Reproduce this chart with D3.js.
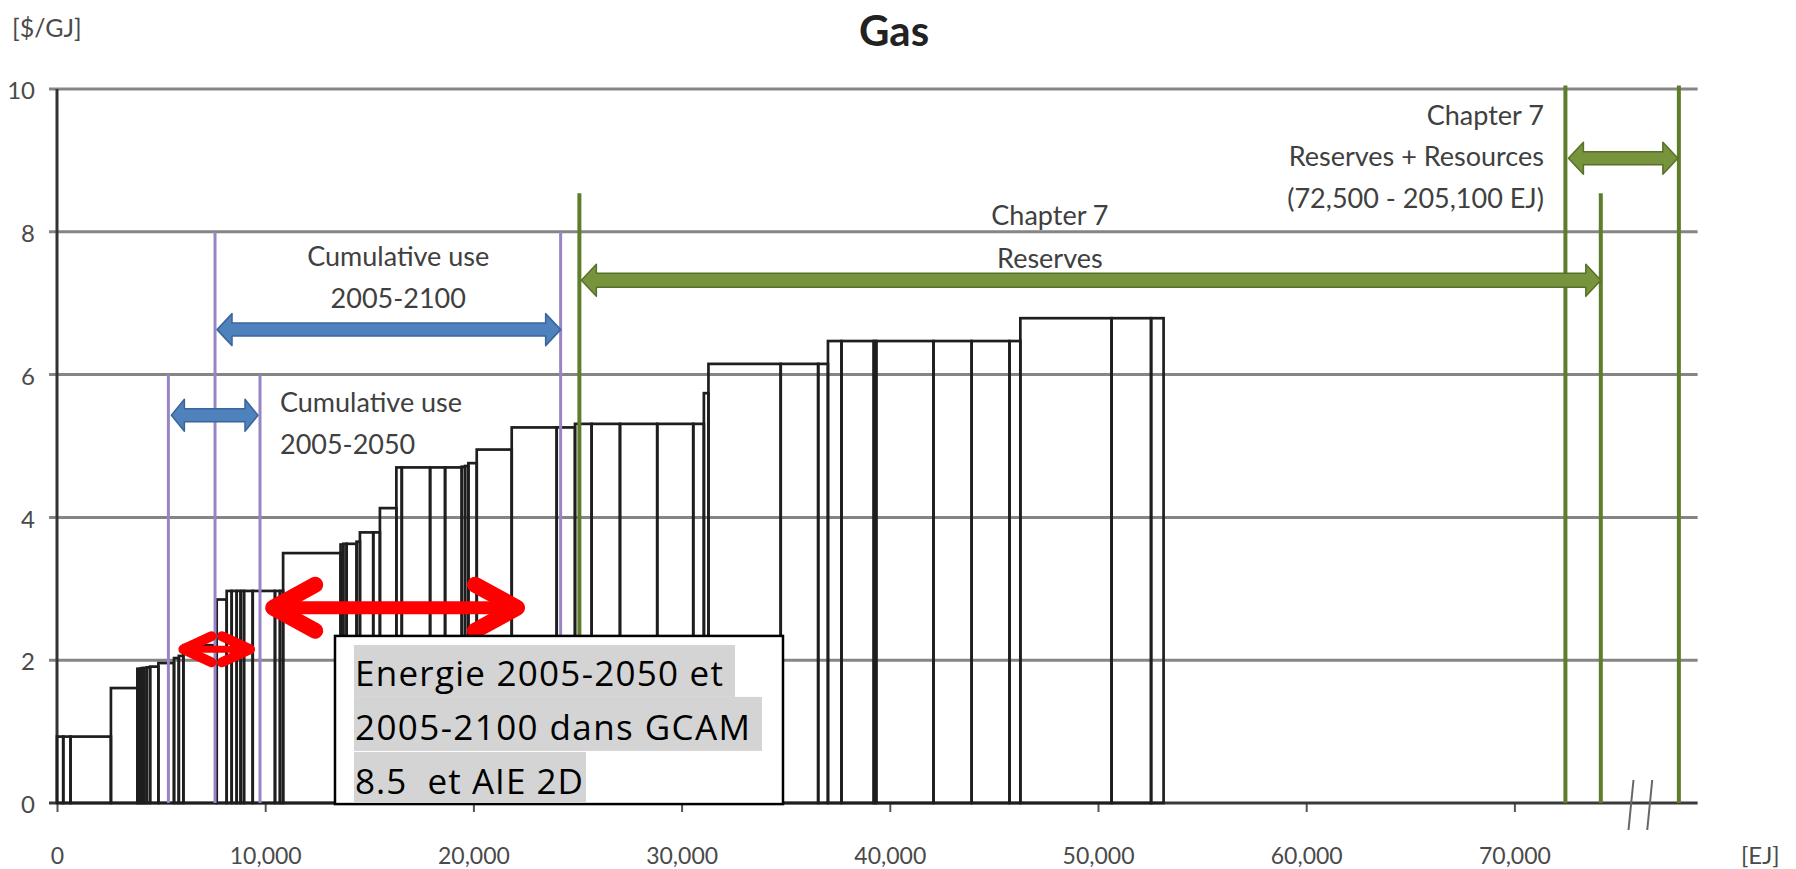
<!DOCTYPE html>
<html><head><meta charset="utf-8">
<script src="https://cdn.jsdelivr.net/npm/d3@7"></script>
<style>body{margin:0;background:#fff;} svg{display:block;}</style>
</head><body>
<svg id="chart" width="1796" height="869"></svg>
<script>
// ---------------- DATA ----------------
// Supply-cost steps: cumulative resource edges (EJ) and price of each step ($/GJ)
const stepEdgesEJ = [0, 300, 650, 2590, 3860, 3960, 4070, 4180, 4310, 4470, 4870, 5620, 5850, 6070, 7670,
  8150, 8390, 8630, 8820, 8980, 9400, 10470, 10710, 10860, 13620, 13750, 13910, 14390, 14550, 15190,
  15510, 16300, 16560, 17920, 18640, 19440, 19600, 19760, 20160, 21840, 24000, 24880, 25680, 27040, 28830,
  30560, 31070, 31290, 34760, 36560, 37030, 37680, 39230, 39350, 42100, 43930, 45750, 46270, 50650, 52550, 53150];
const stepPrices = [0.93, 0.93, 0.93, 1.61, 1.88, 1.88, 1.89, 1.89, 1.90, 1.91, 1.96, 2.03, 2.06, 2.21,
  2.85, 2.97, 2.97, 2.97, 2.97, 2.97, 2.97, 2.97, 2.97, 3.50, 3.62, 3.63, 3.63, 3.66, 3.79, 3.79,
  4.13, 4.70, 4.70, 4.70, 4.70, 4.71, 4.72, 4.76, 4.95, 5.26, 5.26, 5.31, 5.31, 5.31, 5.31, 5.31,
  5.74, 6.15, 6.15, 6.15, 6.47, 6.47, 6.47, 6.47, 6.47, 6.47, 6.47, 6.79, 6.79, 6.79];

const yTickValues = [0, 2, 4, 6, 8, 10];
const xTickValues = [0, 10000, 20000, 30000, 40000, 50000, 60000, 70000];
const xTickLabels = ["0", "10,000", "20,000", "30,000", "40,000", "50,000", "60,000", "70,000"];

// Annotation ranges (EJ)
const cumUse2050EJ = [5350, 9750];
const cumUse2100EJ = [7590, 24190];
const ch7ReservesEJ = [25090, 74150];
const ch7ResourcesEJ = [72450, 77900];   // right end drawn at the broken-axis position (205,100 EJ)
const axisBreakEJ = [75600, 76500];
const axisEndEJ = 78800;
const gcam2050EJ = [5830, 9510];
const gcam2100EJ = [10000, 22480];

// ---------------- SCALES ----------------
const svg = d3.select("#chart");
const x = d3.scaleLinear().domain([0, 80000]).range([57, 57 + 80000 * 0.02082]);
const y = d3.scaleLinear().domain([0, 10]).range([803, 89]);
const FONT = "Lato, 'Open Sans', sans-serif";
const TXT = "#4a4a4a";

// gridlines
svg.append("g").selectAll("line").data(yTickValues.filter(v => v > 0)).join("line")
  .attr("x1", x(0) - 8).attr("x2", x(axisEndEJ))
  .attr("y1", d => y(d)).attr("y2", d => y(d))
  .attr("stroke", "#858585").attr("stroke-width", 3);

// y axis (labels)
const yAx = svg.append("g").attr("transform", `translate(${x(0)},0)`)
  .call(d3.axisLeft(y).tickValues(yTickValues).tickSize(0).tickPadding(22).tickFormat(d3.format("d")));
yAx.select(".domain").remove();
yAx.selectAll("text").attr("font-family", FONT).attr("font-size", 24).attr("fill", TXT).attr("dy", "0.4em");

// x axis
const xAx = svg.append("g").attr("transform", `translate(0,${y(0)})`)
  .call(d3.axisBottom(x).tickValues(xTickValues).tickSize(9).tickPadding(36).tickFormat((d, i) => xTickLabels[i]));
xAx.select(".domain").remove();
xAx.selectAll(".tick line").attr("stroke", "#555").attr("stroke-width", 2);
xAx.selectAll("text").attr("font-family", FONT).attr("font-size", 23).attr("fill", TXT);

// axis lines
svg.append("line").attr("x1", x(0) - 8).attr("x2", x(axisEndEJ)).attr("y1", y(0)).attr("y2", y(0))
  .attr("stroke", "#3a3a3a").attr("stroke-width", 3);
svg.append("line").attr("x1", x(0)).attr("x2", x(0)).attr("y1", y(10)).attr("y2", y(0))
  .attr("stroke", "#333").attr("stroke-width", 3);

// axis break marks
svg.append("g").selectAll("line").data(axisBreakEJ).join("line")
  .attr("x1", d => x(d) - 2.5).attr("x2", d => x(d) + 2.5)
  .attr("y1", y(0) + 27).attr("y2", y(0) - 23)
  .attr("stroke", "#666").attr("stroke-width", 2);

// supply steps
const steps = stepPrices.map((p, i) => ({ x0: stepEdgesEJ[i], x1: stepEdgesEJ[i + 1], p }));
svg.append("g").selectAll("rect").data(steps).join("rect")
  .attr("x", d => x(d.x0)).attr("width", d => x(d.x1) - x(d.x0))
  .attr("y", d => y(d.p)).attr("height", d => y(0) - y(d.p))
  .attr("fill", "none").attr("stroke", "#1e1e1e").attr("stroke-width", 2.7);

// purple cumulative-use markers
const purpleLines = [
  { ej: cumUse2050EJ[0], top: 6 }, { ej: cumUse2050EJ[1], top: 6 },
  { ej: cumUse2100EJ[0], top: 8 }, { ej: cumUse2100EJ[1], top: 8 }];
svg.append("g").selectAll("line").data(purpleLines).join("line")
  .attr("x1", d => x(d.ej)).attr("x2", d => x(d.ej)).attr("y1", d => y(d.top)).attr("y2", y(0))
  .attr("stroke", "#9984c6").attr("stroke-width", 3);

// green chapter 7 markers
const greenLines = [
  { ej: ch7ReservesEJ[0], top: 8.54 }, { ej: ch7ResourcesEJ[0], top: 10.05 },
  { ej: ch7ReservesEJ[1], top: 8.54 }, { ej: ch7ResourcesEJ[1], top: 10.05 }];
svg.append("g").selectAll("line").data(greenLines).join("line")
  .attr("x1", d => x(d.ej)).attr("x2", d => x(d.ej)).attr("y1", d => y(d.top)).attr("y2", y(0))
  .attr("stroke", "#5e7d2b").attr("stroke-width", 4);

// block double arrows
function blockArrow(xa, xb, yc, shaftH, headH, headL, fill, stroke) {
  const pts = [[xa, yc], [xa + headL, yc - headH], [xa + headL, yc - shaftH], [xb - headL, yc - shaftH],
    [xb - headL, yc - headH], [xb, yc], [xb - headL, yc + headH], [xb - headL, yc + shaftH],
    [xa + headL, yc + shaftH], [xa + headL, yc + headH]];
  svg.append("path").attr("d", d3.line()(pts) + "Z")
    .attr("fill", fill).attr("stroke", stroke).attr("stroke-width", 1.5).attr("stroke-linejoin", "round");
}
blockArrow(x(cumUse2100EJ[0]) + 2, x(cumUse2100EJ[1]), y(6.63), 6.5, 16, 15, "#4f81bd", "#3a659a");
blockArrow(x(cumUse2050EJ[0]) + 3, x(cumUse2050EJ[1]) - 2, y(5.43), 6.5, 16, 13, "#4f81bd", "#3a659a");
blockArrow(x(ch7ReservesEJ[0]) + 2, x(ch7ReservesEJ[1]), y(7.32), 7, 16, 15, "#77933c", "#58702a");
blockArrow(x(ch7ResourcesEJ[0]) + 3, x(ch7ResourcesEJ[1]) - 1, y(9.03), 6.5, 16, 15, "#77933c", "#58702a");

// red arrows
function redArrow(xa, xb, yc, shaftW, armW, armDx, armDy) {
  const g = svg.append("g").attr("fill", "none").attr("stroke", "#ff0000");
  g.append("line").attr("x1", xa + armW / 2).attr("x2", xb - armW / 2).attr("y1", yc).attr("y2", yc)
    .attr("stroke-width", shaftW);
  const tl = xa + armW / 2, tr = xb - armW / 2;
  g.append("path").attr("d", `M${tl + armDx},${yc - armDy}L${tl},${yc}L${tl + armDx},${yc + armDy}`)
    .attr("stroke-width", armW).attr("stroke-linecap", "round").attr("stroke-linejoin", "round");
  g.append("path").attr("d", `M${tr - armDx},${yc - armDy}L${tr},${yc}L${tr - armDx},${yc + armDy}`)
    .attr("stroke-width", armW).attr("stroke-linecap", "round").attr("stroke-linejoin", "round");
}
redArrow(x(gcam2100EJ[0]), x(gcam2100EJ[1]), y(2.735), 13, 16, 42, 23);
redArrow(x(gcam2050EJ[0]), x(gcam2050EJ[1]), y(2.153), 7, 10, 28, 13);

// annotation texts
function multiText(lines, xp, yp, anchor, lh, size, fill) {
  const t = svg.append("text").attr("font-family", FONT).attr("font-size", size).attr("fill", fill)
    .attr("text-anchor", anchor);
  lines.forEach((s, i) => t.append("tspan").attr("x", xp).attr("y", yp + i * lh).text(s));
  return t;
}
multiText(["Cumulative use", "2005-2100"], x(16390), y(7.52), "middle", 42, 27, "#404040");
multiText(["Cumulative use", "2005-2050"], x(10710), y(5.47), "start", 42, 27, "#404040");
multiText(["Chapter 7", "Reserves"], x(47690), y(8.10), "middle", 43, 27, "#404040");
multiText(["Chapter 7", "Reserves + Resources", "(72,500 - 205,100 EJ)"], x(71420), y(9.50), "end", 41.5, 27, "#404040");

// titles
svg.append("text").attr("x", 894).attr("y", 46).attr("text-anchor", "middle")
  .attr("font-family", FONT).attr("font-weight", "bold").attr("font-size", 42).attr("fill", "#222").text("Gas");
svg.append("text").attr("x", 12).attr("y", 37).attr("font-family", FONT).attr("font-size", 25)
  .attr("fill", TXT).text("[$/GJ]");
svg.append("text").attr("x", 1741).attr("y", 864).attr("font-family", FONT).attr("font-size", 24)
  .attr("fill", TXT).text("[EJ]");

// GCAM / IEA box
const bx0 = x(13352), bx1 = x(34870), by0 = y(2.34), by1 = y(-0.015);
svg.append("rect").attr("x", bx0).attr("y", by0).attr("width", bx1 - bx0).attr("height", by1 - by0)
  .attr("fill", "#fff").attr("stroke", "#000").attr("stroke-width", 2.5);
const boxLines = [
  { t: "Energie 2005-2050 et", hw: 381, tl: 368, h0: 9, h1: 61, base: 50 },
  { t: "2005-2100 dans GCAM", hw: 408, tl: 395, h0: 61, h1: 115, base: 104 },
  { t: "8.5  et AIE 2D", hw: 232, tl: 228, h0: 116, h1: 167, base: 158 }];
boxLines.forEach(l => {
  svg.append("rect").attr("x", bx0 + 19).attr("y", by0 + l.h0).attr("width", l.hw).attr("height", l.h1 - l.h0)
    .attr("fill", "#d4d4d4");
  svg.append("text").attr("x", bx0 + 20).attr("y", by0 + l.base).attr("font-family", "'Open Sans', Lato, sans-serif")
    .attr("font-size", 35).attr("fill", "#000").attr("textLength", l.tl).style("white-space", "pre").text(l.t);
});
</script>
</body></html>
